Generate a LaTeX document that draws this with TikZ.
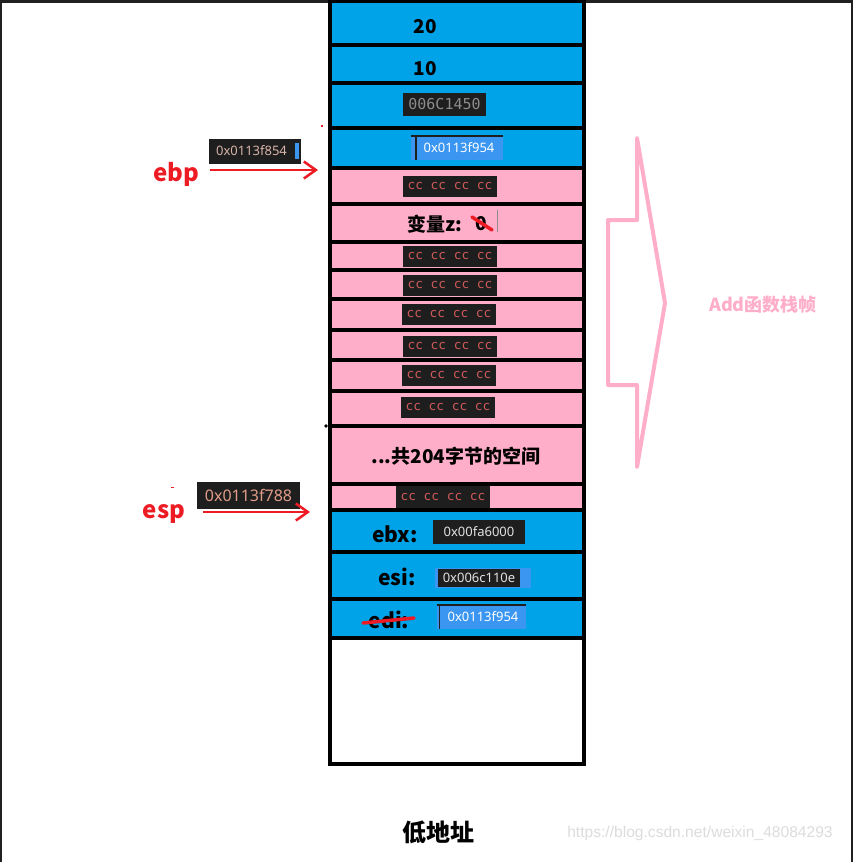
\documentclass[tikz,border=0pt]{standalone}
\usepackage{fontspec}
\setmainfont{Noto Sans CJK SC}
\newfontfamily\monofont{DejaVu Sans Mono}
\newfontfamily\uifont{Noto Sans}
\newfontfamily\wmfont{Liberation Sans}
\usetikzlibrary{arrows.meta}
\definecolor{stackblue}{HTML}{00A2E8}
\definecolor{stackpink}{HTML}{FFAEC9}
\definecolor{boxdark}{HTML}{1E1E1E}
\definecolor{cctext}{HTML}{D05A5A}
\definecolor{hexgray}{HTML}{8C8C8C}
\definecolor{hexblue}{HTML}{3A96F0}
\definecolor{hexlight}{HTML}{E2E2E2}
\definecolor{ebptext}{HTML}{D8B4A8}
\definecolor{esptext}{HTML}{E09C88}
\definecolor{ptrred}{HTML}{ED1C24}
\definecolor{framedark}{HTML}{202020}
\definecolor{wmgray}{HTML}{DCDCDC}
\newcommand\stackcell[4]{\node[cell,fill=#4,minimum height={(#3-#2)*1pt}] (#1) at (456.5,{(#2+#3)/2}) {};}
\begin{document}
\begin{tikzpicture}[x=1pt,y=-1pt,
  cell/.style={draw=black,line width=4pt,rectangle,inner sep=0pt,outer sep=0pt,minimum width=254pt},
  num/.style={font=\bfseries\fontsize{19}{19}\selectfont,text=black,inner sep=0pt},
  lbl/.style={font=\bfseries\fontsize{19}{19}\selectfont,text=black,inner sep=0pt},
  reglbl/.style={font=\bfseries\fontsize{21}{21}\selectfont,text=black,inner sep=0pt},
  ccbox/.style={fill=boxdark,text=cctext,font=\monofont\fontsize{12.8}{12.8}\selectfont,inner sep=0pt,minimum width=94pt,minimum height=21pt},
  darkbox/.style={fill=boxdark,text=hexlight,font=\uifont\fontsize{13}{13}\selectfont,inner sep=0pt},
  bluebox/.style={fill=hexblue,text=white,font=\uifont\fontsize{13}{13}\selectfont,inner sep=0pt},
  ptrlbl/.style={font=\bfseries\fontsize{24}{24}\selectfont,text=ptrred,inner sep=0pt},
  ptrarrow/.style={draw=ptrred,line width=2.5pt,-{Straight Barb[length=12pt,width=17pt]}},
  strike/.style={draw=ptrred,line width=3.5pt,line cap=round},
  frameline/.style={draw=stackpink,line width=4pt,line join=round,line cap=round}]
\useasboundingbox (0,0) rectangle (853,862);
\fill[white] (0,0) rectangle (853,862);
\fill[framedark] (0,0) rectangle (853,3);
\fill[framedark] (0,0) rectangle (2,862);
\fill[framedark] (851,0) rectangle (853,862);
% stack cells
\stackcell{c1}{1}{45}{stackblue}
\stackcell{c2}{45}{83}{stackblue}
\stackcell{c3}{83}{128}{stackblue}
\stackcell{c4}{128}{168}{stackblue}
\stackcell{p1}{168}{204}{stackpink}
\stackcell{p2}{204}{242}{stackpink}
\stackcell{p3}{242}{270}{stackpink}
\stackcell{p4}{270}{299}{stackpink}
\stackcell{p5}{299}{330}{stackpink}
\stackcell{p6}{330}{360}{stackpink}
\stackcell{p7}{360}{391}{stackpink}
\stackcell{p8}{391}{426}{stackpink}
\stackcell{p9}{426}{484}{stackpink}
\stackcell{p10}{484}{510}{stackpink}
\stackcell{b1}{510}{552}{stackblue}
\stackcell{b2}{552}{599}{stackblue}
\stackcell{b3}{599}{638}{stackblue}
\stackcell{w1}{638}{764}{white}
% top cells
\node[num] (v20) at (425,27) {20};
\node[num] (v10) at (425,69) {10};
\node[fill=boxdark,text=hexgray,font=\monofont\fontsize{15}{15}\selectfont,inner sep=0pt,minimum width=83pt,minimum height=23pt] (ret) at (444.5,104.5) {006C1450};
\node[bluebox,minimum width=92pt,minimum height=24pt] (oldebp) at (457,148) {\hspace*{4pt}0x0113f954};
\draw[boxdark,line width=2pt] (oldebp.north west) -- (oldebp.north east);
\draw[boxdark,line width=1.5pt] ([xshift=5pt]oldebp.north west) -- ([xshift=5pt]oldebp.south west);
% cc cells
\node[ccbox] (cc1) at (450,186.5) {cc cc cc cc};
\node[lbl,anchor=east] (varz) at (462,224) {变量z:};
\node[lbl] (zval) at (481,224) {0};
\draw[strike] ([shift={(-9,-7)}]zval.center) -- ([shift={(11,6)}]zval.center);
\draw[hexgray,line width=0.8pt] (497,210) -- (497,232);
\node[ccbox] (cc3) at (450,256) {cc cc cc cc};
\node[ccbox] (cc4) at (450,285.5) {cc cc cc cc};
\node[ccbox] (cc5) at (449,314.5) {cc cc cc cc};
\node[ccbox] (cc6) at (450,346) {cc cc cc cc};
\node[ccbox] (cc7) at (449,375.5) {cc cc cc cc};
\node[ccbox] (cc8) at (448,407.5) {cc cc cc cc};
\node[lbl] (space) at (456,456) {...共204字节的空间};
\node[ccbox,minimum height=22pt] (cc10) at (443,497) {cc cc cc cc};
% saved registers
\node[reglbl] (ebx) at (395,534) {ebx:};
\node[darkbox,minimum width=92pt,minimum height=24pt] (ebxval) at (479,532) {0x00fa6000};
\node[reglbl] (esi) at (397,577) {esi:};
\node[fill=hexblue,inner sep=0pt,minimum width=96pt,minimum height=20pt] (esiback) at (483,578) {};
\node[darkbox,minimum width=82pt,minimum height=18pt] (esival) at (479,578) {0x006c110e};
\node[reglbl] (edi) at (389,620) {edi:};
\draw[strike] ([shift={(-26,3)}]edi.center) -- ([shift={(25,-2)}]edi.center);
\node[bluebox,minimum width=89pt,minimum height=24pt] (edival) at (481.5,617) {\hspace*{3pt}0x0113f954};
\draw[boxdark,line width=2pt] (edival.north west) -- (edival.north east);
\draw[boxdark,line width=1.2pt] ([xshift=3pt]edival.north west) -- ([xshift=3pt]edival.south west);
% pointers
\node[ptrlbl] (ebp) at (176,174) {ebp};
\node[fill=boxdark,text=ebptext,font=\uifont\fontsize{13}{13}\selectfont,inner sep=0pt,minimum width=92pt,minimum height=25pt] (ebpval) at (254.5,151) {0x0113f854\hspace*{6pt}};
\fill[hexblue] ([shift={(-6,-8)}]ebpval.east) rectangle ([shift={(-2,8)}]ebpval.east);
\coordinate (ebpfrom) at (210,170);
\coordinate (ebptip) at (318,170);
\draw[ptrarrow] (ebpfrom) -- (ebptip);
\node[ptrlbl] (esp) at (164,514) {esp};
\node[fill=boxdark,text=esptext,font=\uifont\fontsize{16}{16}\selectfont,inner sep=0pt,minimum width=103pt,minimum height=27pt] (espval) at (248.5,495) {0x0113f788};
\coordinate (espfrom) at (203,512);
\coordinate (esptip) at (310,512);
\draw[ptrarrow] (espfrom) -- (esptip);
\fill[ptrred] (321,125) rectangle (323,127);
\fill[ptrred] (171,486.5) rectangle (174,487.5);
\fill[black] (326,426) circle (1.8);
% frame arrow
\draw[frameline] (637,138) -- (665,303) -- (637,467) -- (637,385) -- (608,385) -- (608,220) -- (637,220) -- cycle;
\node[font=\bfseries\fontsize{18}{18}\selectfont,text=stackpink,inner sep=0pt] (framelbl) at (763,305) {Add函数栈帧};
% bottom
\node[font=\bfseries\fontsize{24}{24}\selectfont,inner sep=0pt] (low) at (438,832) {低地址};
\node[font=\wmfont\fontsize{15.6}{15.6}\selectfont,text=wmgray,inner sep=0pt] (wm) at (700,833) {https://blog.csdn.net/weixin\_48084293};
\end{tikzpicture}
\end{document}
